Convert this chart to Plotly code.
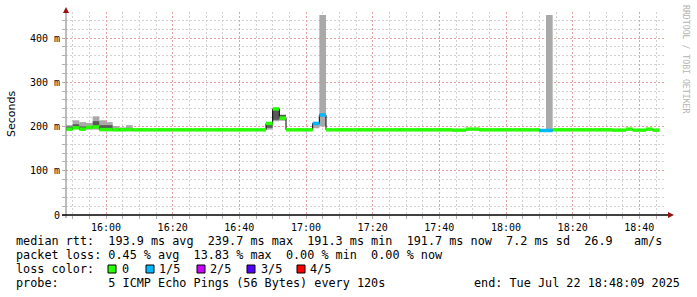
import plotly.graph_objects as go
from datetime import datetime, timedelta

# ---------------- data ----------------
START = datetime(2025, 7, 22, 15, 48, 0)
STEP_MIN = 2
N_STEPS = 89
step_times = [START + timedelta(minutes=STEP_MIN * k) for k in range(N_STEPS)]

# median rtt per step (ms)
median = [
    194, 197, 194, 198, 199, 193, 193, 192.5, 192.5, 193,
    192.5, 192.5, 192.5, 192.5, 192.5, 192.5, 192.5, 192.5, 192.5, 192.5,
    192.5, 192.5, 192.5, 192.5, 192.5, 192.5, 192.5, 192.5, 192.5, 192.5,
    207, 239.7, 219,
    192.5, 192.5, 192.5, 192.5,
    207, 226,
    192.5, 192.5, 192.5, 192.5, 192.5, 192.5, 192.5, 192.5, 192.5, 192.5,
    192.5, 192.5, 192.5, 192.5, 192.5, 192.5, 192.5, 192.5, 192.5,
    191.8, 191.8,
    194, 194,
    192.5, 192.5, 192.5, 192.5, 192.5, 192.5, 192.5, 192.5, 192.5,
    191, 191,
    192.5, 192.5, 192.5, 192.5, 192.5, 192.5, 192.5, 192.5, 192.5,
    191.8, 191.8,
    194,
    191.8, 191.8,
    194,
    191.7,
]
# lost pings per step (out of 5)
loss = [0] * 37 + [1, 1] + [0] * 32 + [1, 1] + [0] * 16

# smoke (ping distribution) for steps where it is visible
smoke_step = [0, 1, 2, 3, 4, 5, 6, 7, 8, 9, 30, 31, 32, 37, 38, 72]
smoke_lo   = [193, 194, 192, 193, 193, 192, 192, 192, 192, 192, 193, 212, 213, 196, 200, 191]
smoke_p2   = [194, 196, 193, 196, 197, 193, 193, 192, 192, 192, 197, 215, 216, 204, 226, 191]
smoke_p4   = [200, 205, 200, 201, 212, 203, 203, 194, 193, 194, 205, 240, 226, 205, 226, 191]
smoke_hi   = [203, 214, 210, 208, 223, 214, 210, 201, 198, 203, 208, 242, 227, 207, 452, 452]

loss_labels = ["0", "1/5", "2/5", "3/5", "4/5"]
loss_colors = ["#26ff00", "#00b8ff", "#cc00ff", "#5500ff", "#ff0000"]

y_ticks = [0, 100, 200, 300, 400]
y_ticktext = ["0", "100 m", "200 m", "300 m", "400 m"]

legend_lines = [
    "median rtt:  193.9 ms avg  239.7 ms max  191.3 ms min  191.7 ms now  7.2 ms sd  26.9   am/s",
    "packet loss: 0.45 % avg  13.83 % max  0.00 % min  0.00 % now",
    "loss color:",
    "probe:       5 ICMP Echo Pings (56 Bytes) every 120s",
]
end_text = "end: Tue Jul 22 18:48:09 2025"

# ---------------- geometry helpers ----------------
L, R, T, B = 66, 31, 12, 82
W, H = 697, 297
PW, PH = W - L - R, H - T - B
def px(x):
    return (x - L) / PW
def py(y):
    return (H - B - y) / PH

MONO = "DejaVu Sans Mono"
STEP_MS = STEP_MIN * 60 * 1000

fig = go.Figure()

# smoke
sx = [step_times[k] for k in smoke_step]
fig.add_trace(go.Bar(x=sx, base=smoke_lo, y=[h - l for h, l in zip(smoke_hi, smoke_lo)],
                     width=STEP_MS, offset=0, marker=dict(color="#a9a9a9", line=dict(width=0)),
                     hoverinfo="skip"))
fig.add_trace(go.Bar(x=sx, base=smoke_p2, y=[h - l for h, l in zip(smoke_p4, smoke_p2)],
                     width=STEP_MS, offset=0, marker=dict(color="#595959", line=dict(width=0)),
                     hoverinfo="skip"))

# black median step line
end_time = step_times[-1] + timedelta(minutes=STEP_MIN)
fig.add_trace(go.Scatter(x=step_times + [end_time], y=median + [median[-1]], mode="lines",
                         line=dict(color="#000000", width=1, shape="hv"), hoverinfo="skip"))

# colored median bands per loss class
for li, col in enumerate(loss_colors):
    xs, ys = [], []
    for k in range(N_STEPS):
        if loss[k] == li:
            xs += [step_times[k], step_times[k] + timedelta(minutes=STEP_MIN), None]
            ys += [median[k], median[k], None]
    if xs:
        fig.add_trace(go.Scatter(x=xs, y=ys, mode="lines", line=dict(color=col, width=3.5),
                                 connectgaps=False, hoverinfo="skip"))

shapes = []
# axis lines
shapes.append(dict(type="line", xref="paper", yref="paper", x0=px(66), x1=px(66),
                   y0=py(218), y1=py(11), line=dict(color="#7a7a7a", width=1), layer="above"))
shapes.append(dict(type="line", xref="paper", yref="paper", x0=px(62), x1=px(668),
                   y0=py(215), y1=py(215), line=dict(color="#000000", width=1.5), layer="above"))
# arrows
shapes.append(dict(type="path", xref="paper", yref="paper",
                   path=f"M {px(63)} {py(13)} L {px(69)} {py(13)} L {px(66)} {py(7)} Z",
                   fillcolor="#9a1010", line=dict(width=0), layer="above"))
shapes.append(dict(type="path", xref="paper", yref="paper",
                   path=f"M {px(668)} {py(212)} L {px(668)} {py(218)} L {px(674)} {py(215)} Z",
                   fillcolor="#9a1010", line=dict(width=0), layer="above"))

annotations = []
line_y = [241, 255, 269, 283]
for txt, yy in zip(legend_lines, line_y):
    annotations.append(dict(text=txt.replace(" ", "\u00a0"), xref="paper", yref="paper",
                            x=px(15), y=py(yy), xanchor="left", yanchor="middle", showarrow=False,
                            borderpad=0, font=dict(family=MONO, size=11.8, color="#000000")))
annotations.append(dict(text=end_text.replace(" ", "\u00a0"), xref="paper", yref="paper",
                        x=px(681), y=py(283), xanchor="right", yanchor="middle", showarrow=False,
                        borderpad=0, font=dict(family=MONO, size=11.8, color="#000000")))

box_x = [108, 146, 197, 247, 297]
lab_x = [121, 158, 209, 260, 309]
for bx, lx, lab, col in zip(box_x, lab_x, loss_labels, loss_colors):
    shapes.append(dict(type="rect", xref="paper", yref="paper", x0=px(bx), x1=px(bx + 8),
                       y0=py(273), y1=py(265), fillcolor=col,
                       line=dict(color="#000000", width=1), layer="above"))
    annotations.append(dict(text=lab, xref="paper", yref="paper", x=px(lx), y=py(269),
                            xanchor="left", yanchor="middle", showarrow=False, borderpad=0,
                            font=dict(family=MONO, size=11.8, color="#000000")))

annotations.append(dict(text="Seconds", xref="paper", yref="paper", x=px(11), y=py(114),
                        xanchor="center", yanchor="middle", textangle=-90, showarrow=False,
                        font=dict(family="DejaVu Sans", size=11, color="#000000")))
annotations.append(dict(text="RRDTOOL / TOBI OETIKER", xref="paper", yref="paper", x=px(686),
                        y=py(59), xanchor="center", yanchor="middle", textangle=90, showarrow=False,
                        font=dict(family=MONO, size=8.2, color="#b4b4b4")))

fig.update_layout(
    width=W, height=H, margin=dict(l=L, r=R, t=T, b=B),
    paper_bgcolor="#ffffff", plot_bgcolor="#ffffff",
    showlegend=False, barmode="overlay",
    shapes=shapes, annotations=annotations,
    xaxis=dict(type="date", range=[START, START + timedelta(minutes=180)],
               tickformat="%H:%M", dtick=20 * 60 * 1000, tick0="2025-07-22 16:00",
               showgrid=True, gridcolor="#e6a0a0", griddash="2px,2px", gridwidth=1,
               ticks="outside", ticklen=3, tickcolor="#b0b0b0",
               tickfont=dict(family=MONO, size=10, color="#000000"),
               showline=False, zeroline=False, fixedrange=True,
               minor=dict(dtick=5 * 60 * 1000, showgrid=True, gridcolor="#d2d2d2",
                          griddash="2px,2px", ticks="outside", ticklen=3, tickcolor="#b0b0b0")),
    yaxis=dict(range=[0, 458.8], tickvals=y_ticks, ticktext=y_ticktext,
               showgrid=True, gridcolor="#e6a0a0", griddash="2px,2px", gridwidth=1,
               ticks="outside", ticklen=3, tickcolor="#b0b0b0",
               tickfont=dict(family=MONO, size=10, color="#000000"),
               showline=False, zeroline=False, fixedrange=True,
               minor=dict(dtick=20, tick0=0, showgrid=True, gridcolor="#d2d2d2",
                          griddash="2px,2px", ticks="outside", ticklen=3, tickcolor="#b0b0b0")),
)

fig.write_html("out.html")
